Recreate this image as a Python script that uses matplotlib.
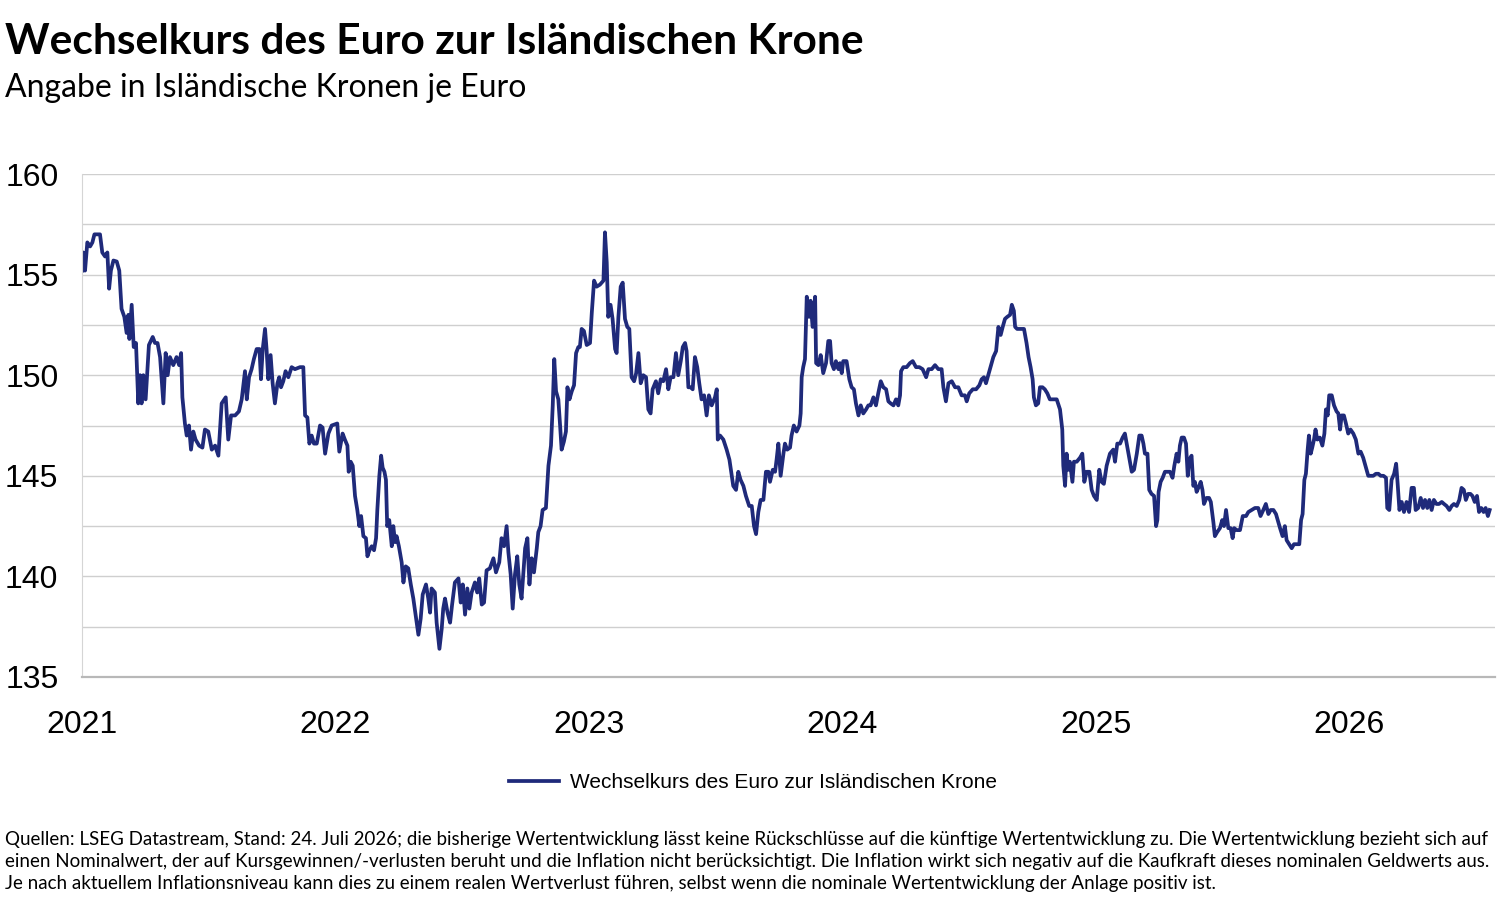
import matplotlib.pyplot as plt
from matplotlib.ticker import MultipleLocator

# Zeit in Jahren seit Anfang 2021
START_YEAR = 2021
years = [
    0.001, 0.005, 0.012, 0.021, 0.032, 0.041, 0.049, 0.071, 0.080, 0.091, 0.100, 0.107, 0.114, 0.124, 0.137,
    0.147, 0.156, 0.167, 0.176, 0.183, 0.187, 0.196, 0.204, 0.213, 0.222, 0.229, 0.235, 0.242, 0.251, 0.264,
    0.279, 0.288, 0.298, 0.308, 0.321, 0.330, 0.338, 0.347, 0.360, 0.373, 0.383, 0.391, 0.396, 0.406, 0.413,
    0.422, 0.430, 0.439, 0.448, 0.462, 0.475, 0.485, 0.498, 0.512, 0.525, 0.538, 0.551, 0.567, 0.577, 0.588,
    0.604, 0.619, 0.630, 0.643, 0.650, 0.659,
    0.669, 0.678, 0.689, 0.700, 0.706, 0.713, 0.722, 0.728, 0.735, 0.744, 0.752, 0.761, 0.771, 0.778, 0.785,
    0.794, 0.803, 0.814, 0.827, 0.840, 0.860, 0.873, 0.880, 0.889, 0.897, 0.906, 0.915, 0.926, 0.939, 0.949,
    0.959, 0.972, 0.985, 1.007, 1.015, 1.028, 1.037, 1.047, 1.052, 1.060, 1.068, 1.077, 1.086, 1.094, 1.101,
    1.110, 1.120, 1.126, 1.134, 1.143, 1.152, 1.160, 1.165, 1.173, 1.180, 1.186, 1.193, 1.199, 1.204, 1.212,
    1.222, 1.228, 1.235, 1.241, 1.250, 1.261, 1.268, 1.277, 1.287, 1.297, 1.307, 1.318, 1.327, 1.336, 1.344,
    1.357, 1.366, 1.373, 1.379, 1.392, 1.399, 1.410, 1.419, 1.425, 1.432, 1.442, 1.452,
    1.460, 1.471, 1.485, 1.494, 1.502, 1.511, 1.520, 1.528, 1.537, 1.550, 1.559, 1.567, 1.577, 1.586, 1.596,
    1.609, 1.623, 1.633, 1.646, 1.655, 1.665, 1.675, 1.682, 1.691, 1.699, 1.708, 1.717, 1.725, 1.734, 1.748,
    1.757, 1.765, 1.774, 1.783, 1.794, 1.800, 1.809, 1.817, 1.830, 1.840, 1.850, 1.857, 1.863, 1.870, 1.879,
    1.886, 1.892, 1.901, 1.909, 1.915, 1.923, 1.932, 1.941, 1.949, 1.958, 1.964, 1.971, 1.980, 1.991, 2.004,
    2.011, 2.020, 2.030, 2.043, 2.057, 2.063, 2.070, 2.076, 2.085, 2.093, 2.103, 2.109, 2.116, 2.125, 2.133,
    2.142, 2.151, 2.159,
    2.168, 2.178, 2.186, 2.195, 2.204, 2.214, 2.225, 2.234, 2.243, 2.251, 2.264, 2.273, 2.283, 2.293, 2.304,
    2.313, 2.322, 2.333, 2.343, 2.352, 2.362, 2.370, 2.379, 2.385, 2.392, 2.401, 2.409, 2.418, 2.427, 2.435,
    2.444, 2.454, 2.464, 2.473, 2.484, 2.497, 2.504, 2.508, 2.517, 2.530, 2.543, 2.554, 2.563, 2.569, 2.580,
    2.589, 2.598, 2.609, 2.619, 2.632, 2.642, 2.651, 2.659, 2.668, 2.677, 2.688, 2.698, 2.708, 2.714, 2.725,
    2.734, 2.740, 2.747, 2.756, 2.767, 2.773, 2.782, 2.793, 2.799, 2.808, 2.819, 2.830, 2.835, 2.839, 2.845,
    2.852, 2.859, 2.868, 2.874, 2.882, 2.892, 2.896, 2.905, 2.914, 2.924, 2.935, 2.944,
    2.951, 2.957, 2.966, 2.974, 2.984, 2.990, 2.997, 3.003, 3.016, 3.027, 3.036, 3.045, 3.053, 3.063, 3.072,
    3.082, 3.093, 3.102, 3.111, 3.122, 3.132, 3.141, 3.151, 3.161, 3.172, 3.181, 3.190, 3.201, 3.211, 3.220,
    3.227, 3.231, 3.240, 3.253, 3.266, 3.277, 3.290, 3.303, 3.316, 3.330, 3.339, 3.352, 3.365, 3.378, 3.391,
    3.398, 3.408, 3.418, 3.431, 3.444, 3.457, 3.470, 3.483, 3.490, 3.500, 3.514, 3.527, 3.540, 3.549, 3.558,
    3.566, 3.575, 3.584, 3.595, 3.606, 3.615, 3.624, 3.632, 3.641, 3.650, 3.661, 3.668, 3.676, 3.681, 3.689,
    3.703, 3.716, 3.726, 3.734, 3.742, 3.750, 3.755, 3.763, 3.772, 3.779, 3.789, 3.798, 3.808, 3.818,
    3.845, 3.858, 3.867, 3.871, 3.878, 3.884, 3.891, 3.897, 3.907, 3.913, 3.924, 3.937, 3.946, 3.954, 3.963,
    3.974, 3.983, 3.992, 4.003, 4.013, 4.022, 4.031, 4.042, 4.055, 4.068, 4.075, 4.084, 4.095, 4.105, 4.114,
    4.121, 4.132, 4.141, 4.150, 4.161, 4.171, 4.180, 4.187, 4.193, 4.203, 4.210, 4.219, 4.229, 4.237, 4.242,
    4.247, 4.255, 4.263, 4.272, 4.281, 4.292, 4.302, 4.309, 4.318, 4.325, 4.331, 4.338, 4.347, 4.355, 4.362,
    4.368, 4.377, 4.384, 4.390, 4.397, 4.407, 4.413, 4.420, 4.426, 4.436, 4.446, 4.453, 4.463, 4.469, 4.478,
    4.489, 4.498, 4.505, 4.513, 4.522, 4.531, 4.539, 4.545, 4.555, 4.568, 4.579, 4.592, 4.601, 4.614, 4.627,
    4.640, 4.649, 4.660, 4.670, 4.680, 4.689, 4.700, 4.710, 4.719,
    4.726, 4.736, 4.745, 4.752, 4.762, 4.772, 4.781, 4.792, 4.802, 4.809, 4.815, 4.822, 4.828, 4.835, 4.840,
    4.847, 4.853, 4.860, 4.866, 4.873, 4.883, 4.893, 4.901, 4.907, 4.914, 4.920, 4.930, 4.939, 4.949, 4.956,
    4.963, 4.969, 4.978, 4.986, 4.995, 5.004, 5.015, 5.025, 5.035, 5.044, 5.054, 5.065, 5.074, 5.083, 5.094,
    5.104, 5.114, 5.123, 5.134, 5.144, 5.149, 5.157, 5.166, 5.176, 5.184, 5.190, 5.197, 5.206, 5.215, 5.225,
    5.235, 5.245, 5.254, 5.261, 5.271, 5.281, 5.290, 5.298, 5.307, 5.315, 5.324, 5.333, 5.343, 5.353, 5.364,
    5.373, 5.383, 5.394, 5.403, 5.412, 5.423, 5.433, 5.442, 5.451, 5.459, 5.468, 5.477, 5.485, 5.494, 5.503,
    5.511, 5.520, 5.529, 5.537, 5.546, 5.553,
]

# Islaendische Kronen je Euro
kurs = [
    155.2, 156.1, 155.2, 156.6, 156.4, 156.6, 157.0, 157.0, 156.1, 155.9, 156.1, 154.3, 155.2, 155.7, 155.65,
    155.2, 153.3, 152.9, 152.1, 153.0, 151.8, 153.5, 151.4, 151.6, 148.6, 150.0, 148.6, 150.0, 148.8, 151.5,
    151.9, 151.6, 151.6, 150.9, 148.6, 151.1, 150.0, 150.9, 150.5, 150.9, 150.5, 151.1, 148.9, 147.6, 147.0,
    147.5, 146.3, 147.2, 146.8, 146.5, 146.4, 147.3, 147.2, 146.3, 146.5, 146.0, 148.6, 148.9, 146.8, 148.0,
    148.0, 148.2, 148.8, 150.2, 148.8, 149.9,
    150.3, 150.8, 151.3, 151.3, 149.8, 151.3, 152.3, 151.3, 149.8, 151.0, 149.6, 148.6, 149.6, 149.9, 149.4,
    149.7, 150.2, 149.9, 150.4, 150.3, 150.4, 150.4, 148.0, 147.9, 146.6, 147.0, 146.6, 146.6, 147.5, 147.4,
    146.1, 147.1, 147.5, 147.6, 146.2, 147.1, 146.8, 146.5, 145.2, 145.7, 145.5, 144.0, 143.3, 142.5, 143.0,
    142.0, 141.9, 141.0, 141.3, 141.5, 141.3, 141.9, 143.3, 145.0, 146.0, 145.4, 145.2, 144.8, 142.5, 142.8,
    141.5, 142.5, 141.7, 142.0, 141.5, 140.7, 139.7, 140.5, 140.4, 139.6, 138.9, 137.9, 137.1, 137.9, 139.1,
    139.6, 138.9, 138.2, 139.4, 139.2, 137.7, 136.4, 137.4, 138.4, 138.9, 138.2, 137.7,
    138.6, 139.7, 139.9, 138.7, 139.6, 138.1, 139.4, 138.4, 139.2, 139.7, 139.2, 139.9, 138.6, 138.7, 140.3,
    140.4, 140.9, 140.2, 140.7, 141.9, 141.5, 142.5, 141.2, 140.1, 138.4, 140.1, 141.0, 139.6, 138.9, 141.4,
    141.9, 139.6, 140.9, 140.2, 141.4, 142.2, 142.5, 143.3, 143.4, 145.5, 146.5, 148.5, 150.8, 149.2, 148.8,
    147.5, 146.3, 146.7, 147.2, 149.4, 148.8, 149.2, 149.5, 151.1, 151.4, 151.4, 152.3, 152.2, 151.5, 151.6,
    153.1, 154.7, 154.4, 154.5, 154.7, 157.1, 155.6, 152.9, 153.5, 152.8, 151.3, 151.1, 152.9, 154.4, 154.6,
    152.8, 152.4, 152.3,
    149.9, 149.7, 150.1, 151.1, 149.6, 150.0, 149.9, 148.3, 148.1, 149.3, 149.7, 149.1, 149.8, 149.7, 150.3,
    149.3, 149.9, 149.9, 151.1, 150.0, 150.7, 151.4, 151.6, 151.2, 149.4, 149.4, 149.3, 150.9, 150.4, 149.6,
    148.8, 149.0, 148.0, 149.0, 148.5, 148.9, 149.3, 146.8, 147.0, 146.8, 146.3, 145.8, 145.0, 144.5, 144.3,
    145.2, 144.8, 144.5, 144.0, 143.5, 143.5, 142.5, 142.1, 143.2, 143.8, 143.8, 145.2, 145.2, 144.7, 145.3,
    145.2, 145.8, 146.6, 145.0, 146.1, 146.6, 146.3, 146.4, 147.0, 147.5, 147.2, 147.5, 148.1, 149.9, 150.4,
    150.8, 153.9, 152.9, 153.7, 152.4, 153.9, 150.6, 150.5, 151.0, 150.1, 150.6, 151.7,
    151.7, 150.6, 150.3, 150.7, 150.3, 150.6, 150.1, 150.7, 150.7, 149.8, 149.4, 149.3, 148.6, 148.0, 148.5,
    148.1, 148.3, 148.5, 148.5, 148.9, 148.5, 149.1, 149.7, 149.4, 149.3, 148.7, 148.6, 148.5, 148.8, 148.5,
    149.0, 150.2, 150.4, 150.4, 150.6, 150.7, 150.4, 150.4, 150.3, 149.9, 150.3, 150.3, 150.5, 150.3, 150.3,
    149.4, 148.7, 149.6, 149.7, 149.4, 149.4, 149.0, 149.0, 148.7, 149.1, 149.3, 149.3, 149.5, 149.8, 149.9,
    149.6, 150.0, 150.4, 150.9, 151.2, 152.4, 152.0, 152.4, 152.8, 152.9, 153.0, 153.5, 153.2, 152.4, 152.3,
    152.3, 152.3, 151.6, 150.9, 150.4, 149.8, 148.9, 148.5, 148.6, 149.4, 149.4, 149.3, 149.1, 148.8,
    148.8, 148.3, 147.3, 145.5, 144.5, 146.1, 145.3, 145.7, 144.7, 145.7, 145.7, 145.9, 146.1, 144.7, 145.2,
    145.2, 144.3, 144.0, 143.8, 145.3, 144.7, 144.6, 145.5, 146.1, 146.3, 145.7, 146.6, 146.6, 146.9, 147.1,
    146.6, 145.8, 145.2, 145.3, 146.1, 147.0, 147.0, 146.6, 146.1, 146.1, 144.3, 144.1, 144.0, 142.5, 142.8,
    144.2, 144.7, 144.9, 145.2, 145.2, 145.2, 144.9, 145.5, 146.1, 145.7, 146.5, 146.9, 146.9, 146.6, 145.0,
    145.8, 146.0, 144.5, 144.7, 144.2, 144.5, 144.7, 144.3, 143.6, 143.9, 143.9, 143.7, 142.7, 142.0, 142.2,
    142.4, 142.8, 142.5, 143.3, 142.4, 142.4, 141.9, 142.4, 142.3, 142.3, 143.0, 143.0, 143.2, 143.3, 143.4,
    143.4, 143.0, 143.3, 143.6, 143.1, 143.3, 143.3, 143.1, 142.7,
    142.4, 142.0, 142.5, 141.8, 141.6, 141.4, 141.6, 141.6, 141.6, 142.8, 143.1, 144.8, 145.1, 146.3, 147.0,
    146.1, 146.4, 146.8, 147.3, 146.8, 146.9, 146.5, 147.1, 148.3, 148.0, 149.0, 149.0, 148.5, 148.2, 148.1,
    147.3, 148.0, 148.0, 147.6, 147.1, 147.3, 147.1, 146.8, 146.1, 146.2, 145.9, 145.4, 145.0, 145.0, 145.0,
    145.1, 145.1, 145.0, 145.0, 144.9, 143.4, 143.3, 144.8, 145.1, 145.6, 144.6, 143.3, 143.7, 143.2, 143.7,
    143.2, 144.4, 144.4, 143.3, 143.4, 143.9, 143.4, 143.8, 143.4, 143.8, 143.3, 143.8, 143.6, 143.6, 143.7,
    143.6, 143.5, 143.3, 143.5, 143.6, 143.5, 143.8, 144.4, 144.3, 143.8, 144.1, 144.1, 144.0, 143.7, 144.0,
    143.2, 143.4, 143.2, 143.4, 143.0, 143.3,
]

x_ticks = [2021, 2022, 2023, 2024, 2025, 2026]
y_ticks = [135, 140, 145, 150, 155, 160]

title = 'Wechselkurs des Euro zur Isländischen Krone'
subtitle = 'Angabe in Isländische Kronen je Euro'
series_label = 'Wechselkurs des Euro zur Isländischen Krone'
footer = [
    'Quellen: LSEG Datastream, Stand: 24. Juli 2026; die bisherige Wertentwicklung lässt keine Rückschlüsse '
    'auf die künftige Wertentwicklung zu. Die Wertentwicklung bezieht sich auf',
    'einen Nominalwert, der auf Kursgewinnen/-verlusten beruht und die Inflation nicht berücksichtigt. '
    'Die Inflation wirkt sich negativ auf die Kaufkraft dieses nominalen Geldwerts aus.',
    'Je nach aktuellem Inflationsniveau kann dies zu einem realen Wertverlust führen, selbst wenn die '
    'nominale Wertentwicklung der Anlage positiv ist.',
]

LINE_COLOUR = '#1f2a7a'
W, H = 1500, 898


def main():
    fig = plt.figure(figsize=(W / 100, H / 100), dpi=100)
    ax = fig.add_axes([82 / W, 1 - 677 / H, 1413 / W, 503 / H])

    x = [START_YEAR + t for t in years]
    ax.plot(x, kurs, color=LINE_COLOUR, lw=2.7, label=series_label, solid_joinstyle='round')

    ax.set_xlim(2021, 2026.574)
    ax.set_ylim(135, 160)
    ax.set_xticks(x_ticks)
    ax.set_yticks(y_ticks)
    ax.yaxis.set_minor_locator(MultipleLocator(2.5))
    ax.grid(which='both', axis='y', color='#cfcfcf', lw=1)
    ax.set_axisbelow(True)

    for side in ['top', 'right']:
        ax.spines[side].set_visible(False)
    ax.spines['left'].set_color('#d5d5d5')
    ax.spines['bottom'].set_color('#b8b8b8')
    ax.spines['bottom'].set_linewidth(1.6)

    ax.tick_params(which='both', length=0)
    ax.tick_params(axis='y', labelsize=23, pad=17)
    ax.tick_params(axis='x', labelsize=23, pad=24)
    for lab in ax.get_xticklabels() + ax.get_yticklabels():
        lab.set_family('Liberation Sans')

    fig.text(5 / W, 1 - 42 / H, title, fontsize=30.6, fontweight='bold', family='Lato', va='center')
    fig.text(5 / W, 1 - 88 / H, subtitle, fontsize=23, family='Lato', va='center')

    fig.legend(loc='center', bbox_to_anchor=(753 / W, 1 - 783 / H), frameon=False,
               prop={'family': 'Liberation Sans', 'size': 15}, handlelength=2.4, handletextpad=0.5)

    for i, line in enumerate(footer):
        fig.text(5 / W, 1 - (840 + 22 * i) / H, line, fontsize=13.5, family='Lato', va='center')

    fig.savefig('out.png', dpi=100)


if __name__ == '__main__':
    main()
